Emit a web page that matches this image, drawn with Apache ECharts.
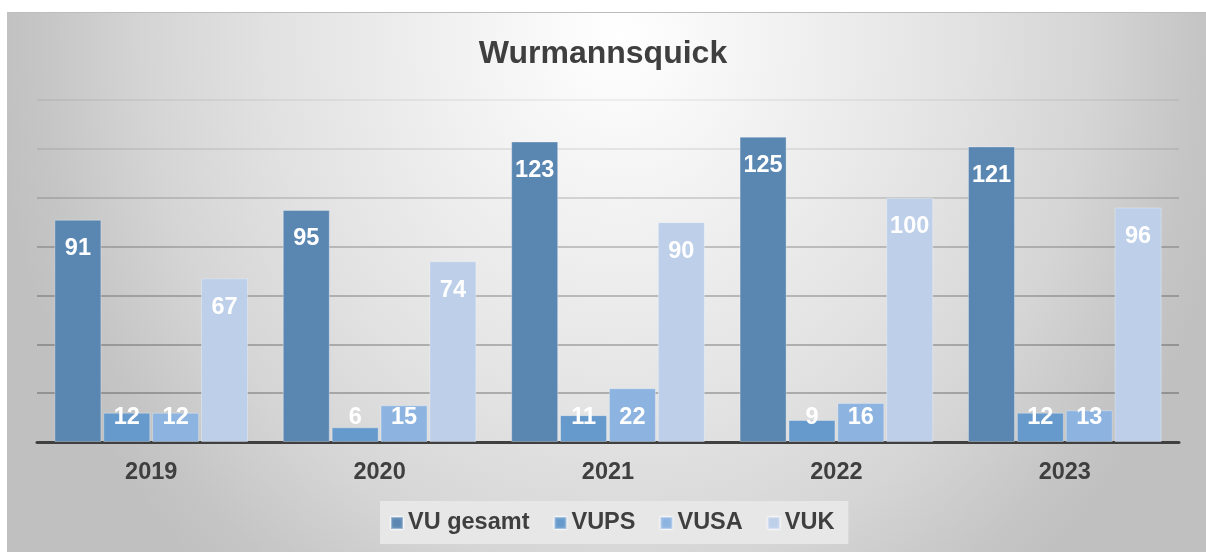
<!DOCTYPE html>
<html>
<head>
<meta charset="utf-8">
<title>Wurmannsquick</title>
<script src="https://cdn.jsdelivr.net/npm/echarts@6/dist/echarts.min.js"></script>
<style>
  html, body { margin: 0; padding: 0; background: #ffffff; }
  #frame {
    position: absolute; left: 7px; top: 12px; width: 1199px; height: 540px;
    border-top: 1px solid #bdbdbd; box-sizing: border-box;
    background: radial-gradient(ellipse 630px 720px at 51% 4%,
      #ffffff 0%, #f2f2f2 25%, #e2e2e2 55%, #d5d5d5 75%, #c5c5c5 92%, #c0c0c0 100%);
  }
  #chart { position: absolute; left: 0; top: 0; width: 1206px; height: 552px; }
</style>
</head>
<body>
<div id="frame"></div>
<div id="chart"></div>
<script>
// Yearly counts per series
const years = ['2019', '2020', '2021', '2022', '2023'];
const vuGesamt = [91, 95, 123, 125, 121];
const vups = [12, 6, 11, 9, 12];
const vusa = [12, 15, 22, 16, 13];
const vuk = [67, 74, 90, 100, 96];

const seriesNames = ['VU gesamt', 'VUPS', 'VUSA', 'VUK'];
const seriesColors = ['#5a87b2', '#669acc', '#8db4e1', '#bdcfe9'];
const seriesValues = [vuGesamt, vups, vusa, vuk];

const FONT = 'Arial, "Liberation Sans", sans-serif';
const TEXT = '#3f3f3f';

// Short bars keep their value label at a fixed height above the axis
function labelled(values) {
  return values.map(v => v > 20
    ? { value: v, label: { position: 'insideTop', distance: 17 } }
    : { value: v, label: { position: 'insideBottom', distance: 12 } });
}

const chart = echarts.init(document.getElementById('chart'), null, { renderer: 'canvas' });

chart.setOption({
  backgroundColor: 'transparent',
  animation: false,
  title: {
    text: 'Wurmannsquick',
    left: 'center',
    top: 33,
    textStyle: { fontFamily: FONT, fontSize: 32, fontWeight: 'bold', color: TEXT }
  },
  legend: {
    data: seriesNames,
    left: 380,
    top: 501,
    padding: [10, 14, 9, 10],
    backgroundColor: '#e7e7e7',
    itemWidth: 12,
    itemHeight: 12,
    itemGap: 24,
    icon: 'rect',
    itemStyle: { shadowBlur: 3, shadowColor: 'rgba(255,255,255,0.9)' },
    textStyle: { fontFamily: FONT, fontSize: 23.5, fontWeight: 'bold', color: TEXT }
  },
  grid: { left: 37, right: 27, top: 100, bottom: 110, containLabel: false },
  xAxis: {
    type: 'category',
    data: years,
    axisLine: { show: true, lineStyle: { color: '#404040', width: 3 } },
    axisTick: { show: false },
    axisLabel: { margin: 19, fontFamily: FONT, fontSize: 23.5, fontWeight: 'bold', color: TEXT }
  },
  yAxis: {
    type: 'value',
    min: 0,
    max: 140,
    interval: 20,
    axisLabel: { show: false },
    axisLine: { show: false },
    axisTick: { show: false },
    splitLine: {
      show: true,
      lineStyle: {
        width: 1.5,
        // grid lines fade out towards the top of the plot
        color: ['rgba(0,0,0,0.32)', 'rgba(0,0,0,0.32)', 'rgba(0,0,0,0.31)', 'rgba(0,0,0,0.29)',
                'rgba(0,0,0,0.26)', 'rgba(0,0,0,0.18)', 'rgba(0,0,0,0.10)', 'rgba(0,0,0,0.07)']
      }
    }
  },
  series: seriesNames.map((name, i) => ({
    name: name,
    type: 'bar',
    data: labelled(seriesValues[i]),
    barWidth: 47,
    barGap: '4%',
    itemStyle: { color: seriesColors[i], borderColor: 'rgba(255,255,255,0.3)', borderWidth: 1 },
    label: {
      show: true,
      fontFamily: FONT,
      fontSize: 23.5,
      fontWeight: 'bold',
      color: '#ffffff'
    }
  }))
});
</script>
</body>
</html>
